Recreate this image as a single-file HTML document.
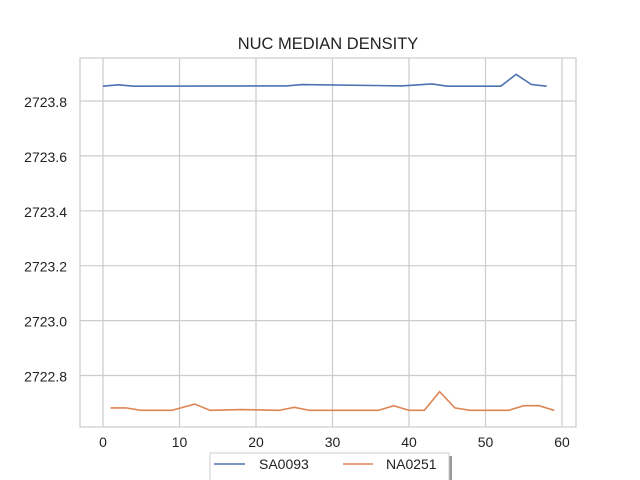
<!DOCTYPE html>
<html><head><meta charset="utf-8"><style>body{margin:0;background:#fff}svg{display:block;font-family:"Liberation Sans",sans-serif}</style></head>
<body>
<svg id="chart" width="640" height="480">
<text x="328" y="49" text-anchor="middle" font-size="16.5" fill="#222">NUC MEDIAN DENSITY</text>
<g id="grid"></g>
<rect x="80" y="58" width="496" height="369" fill="none" stroke="#ccc" stroke-width="1.2"/>
<g id="series"></g>
<g>
<rect x="213" y="456" width="239" height="28" fill="#999"/>
<rect x="210" y="453" width="239" height="28" fill="#fff" stroke="#ccc"/>
<line x1="214" y1="464" x2="245" y2="464" stroke="#4c72b0" stroke-width="1.6"/>
<text x="259" y="469" font-size="14" fill="#222">SA0093</text>
<line x1="343" y1="464" x2="373" y2="464" stroke="#dd8452" stroke-width="1.6"/>
<text x="386" y="469" font-size="14" fill="#222">NA0251</text>
</g>
</svg>
<script>
const xTicks=[0,10,20,30,40,50,60];
const yTicks=[2722.8,2723.0,2723.2,2723.4,2723.6,2723.8];
const saX=[0,2,4,24,26,39,43,45,52,54,56,58];
const saY=[2723.854,2723.859,2723.854,2723.855,2723.86,2723.855,2723.862,2723.854,2723.854,2723.897,2723.86,2723.854];
const naX=[1,3,5,9,12,14,18,23,25,27,36,38,40,42,44,46,48,53,55,57,59];
const naY=[2722.682,2722.682,2722.673,2722.673,2722.696,2722.673,2722.676,2722.673,2722.684,2722.673,2722.673,2722.69,2722.673,2722.673,2722.741,2722.682,2722.673,2722.673,2722.69,2722.69,2722.673];
const NS='http://www.w3.org/2000/svg';
const xs=v=>103+v*7.65;
const ys=v=>101+(2723.8-v)*274.5;
const grid=document.getElementById('grid');
function mk(tag,attrs,parent){const e=document.createElementNS(NS,tag);for(const k in attrs)e.setAttribute(k,attrs[k]);parent.appendChild(e);return e;}
xTicks.forEach(t=>{
const l=mk('line',{x1:xs(t),x2:xs(t),y1:58,y2:427,stroke:'#ccc','stroke-width':1.2},grid);


const tx=mk('text',{x:xs(t),y:447,'text-anchor':'middle','font-size':14,fill:'#222'},grid);
tx.textContent=t;


});
yTicks.forEach(t=>{
const l=mk('line',{x1:80,x2:576,y1:ys(t),y2:ys(t),stroke:'#ccc','stroke-width':1.2},grid);


const tx=mk('text',{x:67,y:ys(t)+6,'text-anchor':'end','font-size':14,fill:'#222'},grid);
tx.textContent=t.toFixed(1);


});
const sg=document.getElementById('series');
const p1=mk('polyline',{points:saX.map((x,i)=>xs(x)+','+ys(saY[i])).join(' '),fill:'none',stroke:'#4c72b0','stroke-width':1.6},sg);


const p2=mk('polyline',{points:naX.map((x,i)=>xs(x)+','+ys(naY[i])).join(' '),fill:'none',stroke:'#dd8452','stroke-width':1.6},sg);


</script>
</body></html>
